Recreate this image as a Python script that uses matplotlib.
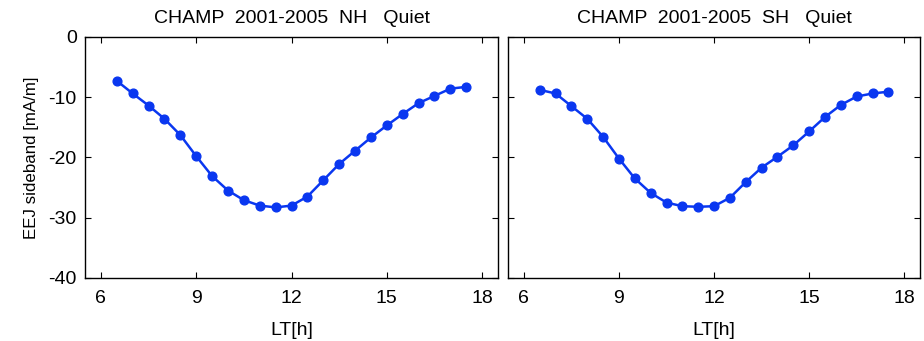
import numpy as np
import matplotlib
matplotlib.use("Agg")
import matplotlib.pyplot as plt

plt.rcParams['font.family'] = ['Liberation Sans', 'DejaVu Sans']
plt.rcParams['axes.unicode_minus'] = False

# local time bins
lt = np.arange(6.5, 17.6, 0.5)

# EEJ sideband current, northern hemisphere
nh = [-7.3, -9.4, -11.4, -13.6, -16.3, -19.8, -23.1, -25.5, -27.1, -28.0, -28.3, -28.0,
      -26.5, -23.8, -21.1, -18.9, -16.7, -14.7, -12.8, -11.0, -9.8, -8.6, -8.3]
# southern hemisphere
sh = [-8.8, -9.4, -11.5, -13.6, -16.6, -20.2, -23.5, -25.9, -27.5, -28.1, -28.2, -28.1,
      -26.7, -24.1, -21.7, -19.9, -18.0, -15.7, -13.3, -11.3, -9.9, -9.4, -9.1]

titles = ['CHAMP  2001-2005  NH   Quiet', 'CHAMP  2001-2005  SH   Quiet']
color = '#0a37f0'

fig = plt.figure(figsize=(9.24, 3.41), dpi=100)
ax1 = fig.add_axes([0.092, 0.185, 0.447, 0.707])
ax2 = fig.add_axes([0.5498, 0.185, 0.446, 0.707])

for ax, y, t in zip([ax1, ax2], [nh, sh], titles):
    ax.plot(lt, y, '-o', color=color, lw=1.8, ms=6.3)
    ax.set_xlim(5.5, 18.5)
    ax.set_ylim(-40, 0)
    ax.set_xticks([6, 9, 12, 15, 18])
    ax.set_yticks([-40, -30, -20, -10, 0])
    ax.tick_params(direction='in', top=True, right=True, labelsize=14, length=4)
    ax.tick_params(axis='x', pad=9)
    ax.tick_params(axis='y', pad=6)
    ax.set_title(t, fontsize=14, pad=10)
    ax.set_xlabel('LT[h]', fontsize=14, labelpad=10.5)
    for s in ax.spines.values():
        s.set_linewidth(1)

ax1.set_ylabel('EEJ sideband [mA/m]', fontsize=12.2, labelpad=7)
ax2.set_yticklabels([])

fig.savefig('out.png', dpi=100)
